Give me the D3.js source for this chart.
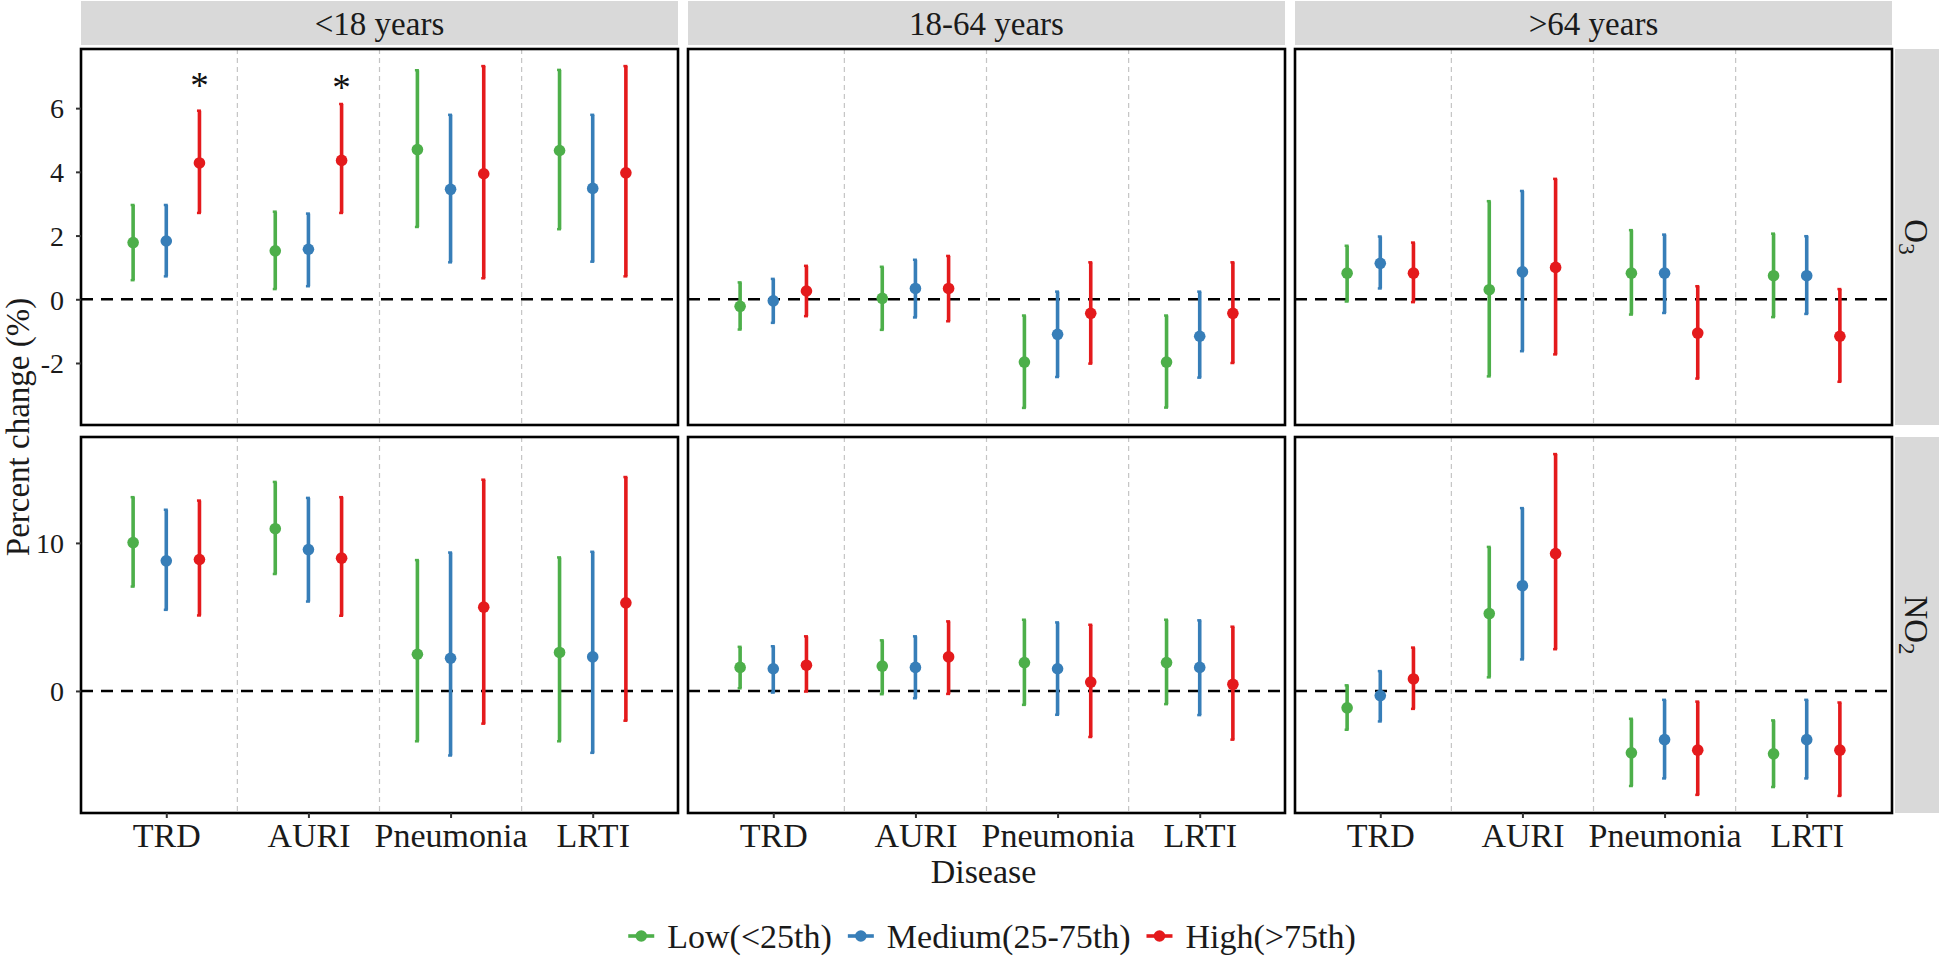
<!DOCTYPE html>
<html><head><meta charset="utf-8">
<script src="https://cdn.jsdelivr.net/npm/d3@7"></script>
<style>
body{margin:0;background:#fff}
svg{display:block}
text{font-family:"Liberation Serif","Times New Roman",serif;fill:#1a1a1a}
</style>
</head><body>
<svg id="chart" width="1943" height="960"></svg>
<script>
// ---------------- DATA ----------------
const ageGroups = ["<18 years", "18-64 years", ">64 years"];
const pollutants = ["O3", "NO2"];
const pollutantLabels = [["O", "3"], ["NO", "2"]];
const diseases = ["TRD", "AURI", "Pneumonia", "LRTI"];
const levels = ["Low(<25th)", "Medium(25-75th)", "High(>75th)"];
const levelColors = ["#4DAF4A", "#377EB8", "#E41A1C"];

// order inside each array: TRD(L,M,H), AURI(L,M,H), Pneumonia(L,M,H), LRTI(L,M,H)
const O3_lt18_est  = [1.78, 1.83, 4.28,  1.52, 1.57, 4.36,  4.70, 3.45, 3.94,  4.67, 3.48, 3.97];
const O3_lt18_lo   = [0.60, 0.72, 2.71,  0.32, 0.41, 2.71,  2.27, 1.16, 0.66,  2.20, 1.18, 0.72];
const O3_lt18_hi   = [2.96, 2.96, 5.92,  2.75, 2.69, 6.13,  7.19, 5.79, 7.32,  7.20, 5.79, 7.32];

const O3_1864_est  = [-0.22, -0.05, 0.26,  0.03, 0.34, 0.34,  -1.97, -1.10, -0.44,  -1.97, -1.16, -0.44];
const O3_1864_lo   = [-0.95, -0.74, -0.53, -0.96, -0.57, -0.69, -3.41, -2.44, -2.02, -3.40, -2.46, -2.00];
const O3_1864_hi   = [0.53, 0.64, 1.05,  1.02, 1.24, 1.36,  -0.51, 0.24, 1.16,  -0.51, 0.24, 1.16];

const O3_gt64_est  = [0.82, 1.13, 0.82,  0.30, 0.86, 1.00,  0.82, 0.82, -1.06,  0.74, 0.74, -1.16];
const O3_gt64_lo   = [-0.07, 0.34, -0.09, -2.42, -1.63, -1.73, -0.48, -0.43, -2.49, -0.56, -0.46, -2.59];
const O3_gt64_hi   = [1.68, 1.97, 1.78,  3.08, 3.40, 3.78,  2.17, 2.03, 0.41,  2.06, 1.98, 0.32];

const NO2_lt18_est = [10.02, 8.79, 8.88,  10.96, 9.55, 8.97,  2.48, 2.21, 5.66,  2.60, 2.30, 5.95];
const NO2_lt18_lo  = [7.05, 5.48, 5.10,  7.90, 6.04, 5.08,  -3.40, -4.36, -2.21,  -3.40, -4.18, -2.01];
const NO2_lt18_hi  = [13.09, 12.24, 12.86,  14.12, 13.04, 13.09,  8.84, 9.35, 14.27,  9.02, 9.40, 14.45];

const NO2_1864_est = [1.59, 1.50, 1.74,  1.68, 1.59, 2.30,  1.92, 1.50, 0.60,  1.92, 1.59, 0.45];
const NO2_1864_lo  = [0.18, -0.11, -0.04,  -0.22, -0.49, -0.20,  -0.94, -1.61, -3.11,  -0.89, -1.63, -3.29];
const NO2_1864_hi  = [2.98, 3.02, 3.69,  3.42, 3.69, 4.70,  4.81, 4.63, 4.47,  4.81, 4.77, 4.34];

const NO2_gt64_est = [-1.14, -0.31, 0.81,  5.23, 7.11, 9.28,  -4.18, -3.29, -4.00,  -4.25, -3.29, -4.00];
const NO2_gt64_lo  = [-2.62, -2.06, -1.21,  0.92, 2.13, 2.82,  -6.42, -5.91, -7.02,  -6.49, -5.91, -7.09];
const NO2_gt64_hi  = [0.38, 1.34, 2.93,  9.73, 12.35, 16.00,  -1.88, -0.60, -0.72,  -1.99, -0.60, -0.78];

const yTicksO3  = [-2, 0, 2, 4, 6];
const yTicksNO2 = [0, 10];

// significance marks
const sigPollutant = ["O3", "O3"];
const sigAge       = ["<18 years", "<18 years"];
const sigDisease   = ["TRD", "AURI"];
const sigLevel     = ["High(>75th)", "High(>75th)"];
const sigY         = [6.88, 6.82];
const sigLabel     = ["*", "*"];

const xTitle = "Disease";
const yTitle = "Percent change (%)";

// ---------------- BUILD TABLE ----------------
const panelArrays = {
  "O3|<18 years":   [O3_lt18_est, O3_lt18_lo, O3_lt18_hi],
  "O3|18-64 years": [O3_1864_est, O3_1864_lo, O3_1864_hi],
  "O3|>64 years":   [O3_gt64_est, O3_gt64_lo, O3_gt64_hi],
  "NO2|<18 years":  [NO2_lt18_est, NO2_lt18_lo, NO2_lt18_hi],
  "NO2|18-64 years":[NO2_1864_est, NO2_1864_lo, NO2_1864_hi],
  "NO2|>64 years":  [NO2_gt64_est, NO2_gt64_lo, NO2_gt64_hi]
};
const rows = [];
pollutants.forEach(p => ageGroups.forEach(a => {
  const [e, lo, hi] = panelArrays[p + "|" + a];
  diseases.forEach((d, di) => levels.forEach((l, li) => {
    const k = di * 3 + li;
    rows.push({pollutant: p, age: a, disease: d, level: l, li, est: e[k], lo: lo[k], hi: hi[k]});
  }));
}));

// ---------------- LAYOUT ----------------
const svg = d3.select("#chart");
const L = {left: 81, panelW: 597, gapX: 10, top: 49, panelH: 376, gapY: 12,
           stripTop: 1, stripH: 44, rStripGap: 3, rStripW: 44};
const panelX = c => L.left + c * (L.panelW + L.gapX);
const panelY = r => L.top + r * (L.panelH + L.gapY);

const yScales = pollutants.map(p => {
  const sub = rows.filter(r => r.pollutant === p);
  const mn = d3.min(sub, r => r.lo), mx = d3.max(sub, r => r.hi);
  const pad = (mx - mn) * 0.05;
  return [mn - pad, mx + pad];
});
const yTicks = [yTicksO3, yTicksNO2];

// top strips
ageGroups.forEach((a, c) => {
  svg.append("rect").attr("x", panelX(c)).attr("y", L.stripTop)
    .attr("width", L.panelW).attr("height", L.stripH).attr("fill", "#D9D9D9");
  svg.append("text").attr("x", panelX(c) + L.panelW / 2).attr("y", L.stripTop + L.stripH / 2)
    .attr("dy", "0.35em").attr("text-anchor", "middle").style("font-size", "33px").text(a);
});
// right strips
const rsx = panelX(2) + L.panelW + L.rStripGap;
pollutants.forEach((p, r) => {
  svg.append("rect").attr("x", rsx).attr("y", panelY(r))
    .attr("width", L.rStripW).attr("height", L.panelH).attr("fill", "#D9D9D9");
  const t = svg.append("text")
    .attr("transform", `translate(${rsx + L.rStripW / 2},${panelY(r) + L.panelH / 2}) rotate(90)`)
    .attr("text-anchor", "middle").attr("dy", "0.35em").style("font-size", "33px");
  t.append("tspan").text(pollutantLabels[r][0]);
  t.append("tspan").attr("dy", "0.3em").style("font-size", "23px").text(pollutantLabels[r][1]);
});

pollutants.forEach((p, r) => {
  ageGroups.forEach((a, c) => {
    const px = panelX(c), py = panelY(r);
    const x = d3.scalePoint().domain(diseases).range([px, px + L.panelW]).padding(0.6);
    const y = d3.scaleLinear().domain(yScales[r]).range([py + L.panelH, py]);
    const step = x.step();
    const dodge = li => (li - 1) * step * 0.7 / 3;
    const g = svg.append("g");
    g.append("rect").attr("x", px).attr("y", py).attr("width", L.panelW).attr("height", L.panelH).attr("fill", "#fff");
    // category dividers
    for (let i = 0; i < diseases.length - 1; i++) {
      const xv = (x(diseases[i]) + x(diseases[i + 1])) / 2;
      g.append("line").attr("x1", xv).attr("x2", xv).attr("y1", py).attr("y2", py + L.panelH)
        .attr("stroke", "#C4C4C4").attr("stroke-width", 1.2).attr("stroke-dasharray", "5,4");
    }
    // zero line
    g.append("line").attr("x1", px).attr("x2", px + L.panelW).attr("y1", y(0)).attr("y2", y(0))
      .attr("stroke", "#000").attr("stroke-width", 2.6).attr("stroke-dasharray", "12,8");
    const sub = rows.filter(d => d.pollutant === p && d.age === a);
    // error bars
    g.selectAll(".eb").data(sub).join("line")
      .attr("x1", d => x(d.disease) + dodge(d.li)).attr("x2", d => x(d.disease) + dodge(d.li))
      .attr("y1", d => y(d.lo)).attr("y2", d => y(d.hi))
      .attr("stroke", d => levelColors[d.li]).attr("stroke-width", 3.6);
    ["lo", "hi"].forEach(k => {
      g.selectAll(".cap" + k).data(sub).join("line")
        .attr("x1", d => x(d.disease) + dodge(d.li) - 2.5).attr("x2", d => x(d.disease) + dodge(d.li) + 1.5)
        .attr("y1", d => y(d[k])).attr("y2", d => y(d[k]))
        .attr("stroke", d => levelColors[d.li]).attr("stroke-width", 2.5);
    });
    g.selectAll(".pt").data(sub).join("circle")
      .attr("cx", d => x(d.disease) + dodge(d.li)).attr("cy", d => y(d.est)).attr("r", 5.8)
      .attr("fill", d => levelColors[d.li]);
    // significance
    sigLabel.forEach((s, i) => {
      if (sigPollutant[i] === p && sigAge[i] === a) {
        const li = levels.indexOf(sigLevel[i]);
        g.append("text").attr("x", x(sigDisease[i]) + dodge(li)).attr("y", y(sigY[i]) + 0.48 * 37)
          .attr("text-anchor", "middle").style("font-size", "37px").style("fill", "#111").text(s);
      }
    });
    // border
    g.append("rect").attr("x", px).attr("y", py).attr("width", L.panelW).attr("height", L.panelH)
      .attr("fill", "none").attr("stroke", "#000").attr("stroke-width", 2.6);
    // axes
    if (c === 0) {
      const ax = svg.append("g").attr("transform", `translate(${px},0)`)
        .call(d3.axisLeft(y).tickValues(yTicks[r]).tickSize(5).tickPadding(12).tickFormat(d => String(d)));
      ax.select(".domain").remove();
      ax.selectAll(".tick line").attr("stroke", "#333").attr("stroke-width", 2);
      ax.selectAll(".tick text").style("font-size", "28px").style("font-family", '"Liberation Serif",serif').attr("fill", "#1a1a1a").attr("dy", "0.35em");
    }
    if (r === pollutants.length - 1) {
      const ax = svg.append("g").attr("transform", `translate(0,${py + L.panelH})`)
        .call(d3.axisBottom(x).tickSize(5).tickPadding(5));
      ax.select(".domain").remove();
      ax.selectAll(".tick line").attr("stroke", "#333").attr("stroke-width", 2);
      ax.selectAll(".tick text").style("font-size", "34px").style("font-family", '"Liberation Serif",serif').attr("fill", "#1a1a1a");
    }
  });
});

// axis titles
const plotMidX = (panelX(0) + panelX(2) + L.panelW) / 2;
svg.append("text").attr("x", plotMidX - 3).attr("y", 883).attr("text-anchor", "middle")
  .style("font-size", "34px").text(xTitle);
svg.append("text").attr("transform", `translate(29,${(panelY(0) + panelY(1) + L.panelH) / 2 - 4}) rotate(-90)`)
  .attr("text-anchor", "middle").style("font-size", "33px").text(yTitle);

// legend
const leg = svg.append("g");
const keyW = 26, keyGap = 13, itemGap = 16, legY = 936;
let cx = 0;
const items = levels.map((l, i) => {
  const it = leg.append("g");
  it.append("line").attr("x1", 0).attr("x2", keyW).attr("y1", 0).attr("y2", 0)
    .attr("stroke", levelColors[i]).attr("stroke-width", 3.6);
  it.append("circle").attr("cx", keyW / 2).attr("cy", 0).attr("r", 5.8).attr("fill", levelColors[i]);
  const t = it.append("text").attr("x", keyW + keyGap).attr("y", 0).attr("dy", "0.35em")
    .style("font-size", "34px").text(l);
  const w = keyW + keyGap + t.node().getComputedTextLength();
  it.attr("transform", `translate(${cx},0)`);
  cx += w + itemGap;
  return it;
});
const totalW = cx - itemGap;
leg.attr("transform", `translate(${992 - totalW / 2},${legY})`);
</script>
</body></html>
